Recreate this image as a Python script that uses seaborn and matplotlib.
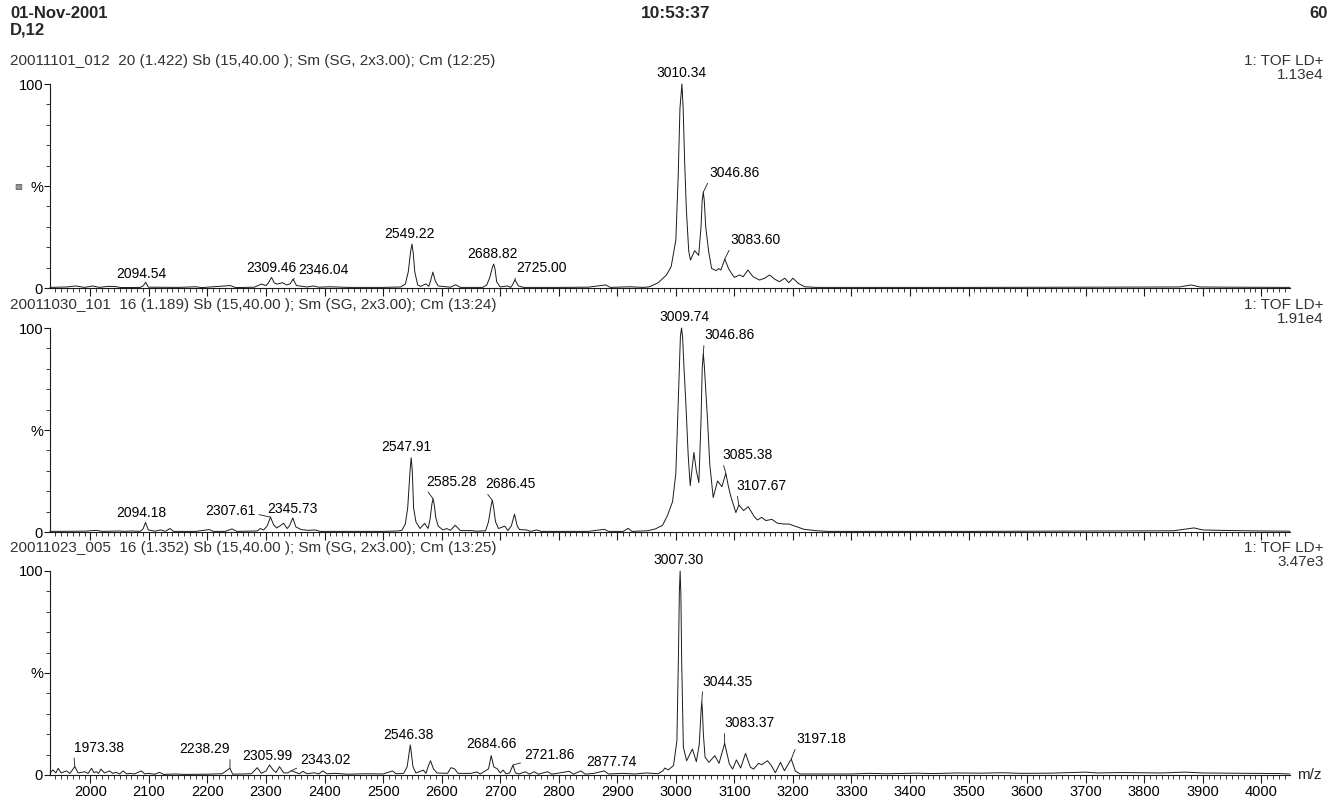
import matplotlib
matplotlib.use("Agg")
import matplotlib.pyplot as plt
import seaborn as sns
import pandas as pd
from matplotlib.ticker import MultipleLocator, FixedLocator

# ---- spectrum traces (m/z, % intensity) ----
TOP_MZ = [1931, 1960, 1975, 1990, 2004, 2015, 2030, 2043, 2052, 2085, 2090, 2094.54, 2099, 2150,
          2180, 2190, 2239, 2248, 2280, 2292, 2300, 2304, 2309.46, 2314, 2319, 2328, 2335, 2341,
          2346.04, 2352, 2370, 2381, 2390, 2410, 2440, 2500, 2530, 2538, 2543, 2547, 2549.22,
          2551.5, 2554, 2559, 2564, 2573, 2578, 2581, 2585, 2589, 2594, 2615, 2624, 2632, 2670,
          2677, 2682, 2686.5, 2688.82, 2691, 2694, 2700, 2712, 2718, 2721, 2725.00, 2731, 2740,
          2800, 2850, 2880, 2888, 2921, 2945, 2955, 2970, 2984, 2992, 3000, 3004, 3007, 3010.34,
          3012.5, 3015, 3018, 3022, 3025, 3032, 3039, 3043, 3045, 3046.86, 3048.5, 3051, 3056,
          3061, 3069, 3073, 3077, 3083.60, 3090, 3095, 3100, 3109, 3115, 3123, 3132, 3143, 3152,
          3160, 3169, 3177, 3186, 3193, 3200, 3209, 3220, 3240, 3500, 3700, 3860, 3880, 3895,
          3950, 4049]
TOP_PCT = [0.3, 0.5, 1.0, 0.3, 1.0, 0.3, 0.8, 0.7, 0.2, 0.3, 1.0, 2.8, 0.4, 0.3,
           0.6, 0.2, 1.2, 0.2, 0.4, 1.9, 1.2, 2.5, 5.2, 2.5, 1.9, 2.6, 1.5, 2.0,
           4.3, 1.2, 0.5, 1.0, 0.4, 0.6, 0.3, 0.3, 0.5, 2.0, 8.0, 18, 21.5,
           17, 8.0, 1.5, 0.8, 2.0, 0.8, 3.5, 7.8, 3.5, 1.0, 0.4, 1.6, 0.3, 0.3,
           1.5, 5.0, 10, 11.7, 9.5, 3.0, 0.5, 1.0, 0.3, 1.5, 4.0, 1.0, 0.3,
           0.3, 0.4, 1.5, 0.3, 0.6, 0.3, 0.6, 2.6, 6.4, 10.5, 23.5, 55, 88, 100,
           88, 62, 38, 18, 13.7, 18.3, 16, 30, 43, 47, 43, 30, 18,
           9.6, 8.5, 9.5, 8.8, 14.2, 9.5, 7.2, 5.2, 6.4, 5.5, 8.8, 5.5, 3.9, 4.8,
           6.4, 4.3, 3.1, 4.8, 2.6, 4.8, 2.3, 0.6, 0.3, 0.3, 0.4, 0.5, 1.5, 0.5,
           0.4, 0.3]

MID_MZ = [1931, 1990, 2010, 2020, 2050, 2058, 2070, 2085, 2090, 2094.18, 2099, 2110, 2120, 2128,
          2136, 2142, 2180, 2203, 2210, 2230, 2242, 2250, 2285, 2290, 2296, 2302, 2307.61, 2313,
          2318, 2324, 2330, 2336, 2340, 2345.73, 2351, 2360, 2372, 2384, 2392, 2500, 2525, 2532,
          2538, 2542, 2546, 2547.91, 2549.8, 2552, 2556, 2563, 2570.8, 2576.8, 2580, 2583.5,
          2585.28, 2587, 2590, 2594, 2602, 2608.7, 2615, 2623, 2632, 2649, 2660, 2675, 2680,
          2684.5, 2686.45, 2688.3, 2692, 2697, 2707.8, 2713, 2719, 2724.4, 2729, 2733, 2745, 2752,
          2762, 2770, 2850, 2877.7, 2885, 2910, 2918.6, 2925, 2951.7, 2965, 2977.3, 2985.8, 2994.4,
          3000, 3005.8, 3007.8, 3009.74, 3011.6, 3014, 3017.1, 3021, 3024.5, 3030.8, 3035, 3039.3,
          3043, 3045, 3046.86, 3048.5, 3050, 3054.1, 3058, 3063.8, 3071.2, 3078.6, 3085.38, 3090,
          3094, 3102.5, 3107.67, 3115.6, 3123.6, 3133.9, 3139.5, 3146.4, 3153.8, 3164, 3173.7,
          3185, 3193.6, 3202.2, 3219.2, 3242, 3260, 3500, 3700, 3850, 3885, 3900, 3930, 4000, 4049]
MID_PCT = [0.3, 0.4, 0.8, 0.3, 0.5, 0.3, 0.5, 0.3, 1.5, 4.7, 1.0, 0.4, 1.0, 0.3,
           1.7, 0.3, 0.3, 1.2, 0.3, 0.3, 1.5, 0.3, 0.5, 1.7, 1.0, 3.0, 7.3, 3.5,
           2.0, 3.0, 4.3, 1.7, 3.0, 6.9, 2.5, 1.2, 0.8, 1.0, 0.3, 0.3, 0.5, 0.8,
           4.0, 12, 30, 36.4, 30, 12, 5, 1.7, 4.2, 1.7, 6, 14,
           16.3, 14, 7, 2.9, 1.0, 1.7, 0.8, 3.3, 0.7, 0.7, 0.4, 0.6, 5,
           13, 15.6, 13, 5, 1.7, 2.9, 0.7, 3, 8.7, 3, 1.2, 1.0, 0.3,
           1.0, 0.3, 0.3, 1.3, 0.3, 0.3, 1.8, 0.3, 0.6, 1.5, 3.3, 8.2, 14.9,
           28.8, 79, 96, 100, 95, 80, 63, 38, 22.7, 39, 30, 24.2,
           55, 80, 87.6, 82, 75, 55, 33, 16.9, 25, 22.2, 28.8, 22,
           17.3, 9.5, 13.2, 10.5, 12.4, 7.5, 5.9, 7.2, 5.6, 6.2, 4.3,
           3.9, 3.9, 3.0, 1.3, 0.6, 0.3, 0.3, 0.5, 0.6, 2.0, 1.0, 0.8, 0.5, 0.4]

BOT_MZ = [1931, 1936, 1941, 1945, 1950, 1959, 1965, 1973.38, 1979, 1990, 1996, 2002, 2006, 2010,
          2014, 2018, 2024, 2033, 2038, 2044, 2050, 2056, 2062, 2067, 2075, 2087, 2093, 2098, 2110,
          2118, 2125, 2144, 2160, 2200, 2225, 2238.29, 2243, 2275, 2285, 2292, 2300, 2305.99, 2312,
          2317, 2323, 2330, 2337, 2343.02, 2352, 2357, 2363, 2370, 2383, 2390, 2397, 2404, 2417,
          2440, 2470, 2500, 2516, 2522, 2535, 2541, 2545.3, 2546.38, 2547.5, 2551, 2556, 2568.6,
          2573, 2578, 2581, 2586, 2592, 2610, 2616, 2622, 2628, 2650, 2660, 2666, 2680, 2684.66,
          2689, 2695, 2700, 2705, 2710, 2716, 2721.86, 2726, 2732, 2743, 2750, 2758, 2765, 2781,
          2788, 2818, 2825, 2838, 2845, 2860, 2877.74, 2885, 2910, 2930, 2950, 2970, 2978, 2981,
          2987, 2996, 3001.8, 3004.5, 3006, 3007.30, 3008.6, 3010, 3012.8, 3018.4, 3028.3, 3035,
          3040, 3043.2, 3044.35, 3045.5, 3047, 3049.9, 3056.5, 3066.5, 3073.7, 3083.37, 3091.4,
          3097, 3103.5, 3110.7, 3119, 3127.3, 3132.8, 3141.1, 3146.7, 3156.6, 3163.2, 3169.9,
          3178.7, 3185.4, 3197.18, 3204, 3212, 3240, 3300, 3330, 3360, 3410, 3440, 3480, 3520,
          3560, 3590, 3640, 3700, 3720, 3760, 3790, 3830, 3870, 3900, 3950, 3990, 4030, 4049]
BOT_PCT = [1.0, 2.5, 1.0, 3.3, 1.0, 2.0, 0.8, 4.1, 1.0, 1.6, 0.8, 3.3, 1.2, 1.6,
           0.8, 2.9, 1.0, 2.0, 0.8, 1.3, 0.5, 2.0, 0.5, 0.8, 0.5, 2.0, 0.5, 0.8, 0.4,
           1.3, 0.3, 0.5, 0.3, 0.4, 0.6, 3.3, 0.4, 0.6, 3.6, 0.8, 2.0, 4.9, 2.5,
           1.2, 4.1, 1.1, 1.0, 2.1, 1.1, 0.6, 1.8, 0.6, 1.1, 0.5, 2.0, 0.6, 0.8,
           0.4, 0.6, 0.5, 2.0, 0.6, 0.8, 4.0, 12.5, 14.7, 12.5, 4.0, 1.0, 2.4,
           0.8, 5, 7, 3, 1.0, 0.8, 3.6, 3.0, 0.8, 0.8, 1.5, 0.5, 3, 9.5,
           4, 3, 1.0, 2.4, 0.6, 1.0, 4.9, 1.0, 0.5, 1.6, 0.4, 1.6, 0.4, 1.6,
           0.4, 1.8, 0.4, 2.0, 0.4, 0.8, 2.0, 0.5, 0.8, 0.5, 1.0, 0.6, 2.1, 3.4,
           2.5, 4.6, 16.8, 60, 90, 100, 88, 55, 13.6, 7, 12.7, 6.5,
           15, 32, 36, 31, 20, 8.7, 6.2, 9.5, 5.7, 15.5, 5.4,
           2.9, 7.4, 3.4, 10.6, 3.8, 2.9, 5.7, 5.1, 7.0, 4.6, 1.1,
           6.2, 2.1, 7.8, 2.0, 0.5, 0.5, 0.5, 0.8, 0.6, 0.9, 0.7, 1.0, 0.9,
           1.1, 0.8, 0.9, 1.4, 1.0, 1.2, 1.1, 1.0, 1.4, 1.0, 0.9, 0.8, 0.7, 0.5]

# ---- labelled peaks ----
TOP_LABELS = ["2094.54", "2309.46", "2346.04", "2549.22", "2688.82", "2725.00",
              "3010.34", "3046.86", "3083.60"]
MID_LABELS = ["2094.18", "2307.61", "2345.73", "2547.91", "2585.28", "2686.45",
              "3009.74", "3046.86", "3085.38", "3107.67"]
BOT_LABELS = ["1973.38", "2238.29", "2305.99", "2343.02", "2546.38", "2684.66",
              "2721.86", "2877.74", "3007.30", "3044.35", "3083.37", "3197.18"]

HEADERS = ["20011101_012  20 (1.422) Sb (15,40.00 ); Sm (SG, 2x3.00); Cm (12:25)",
           "20011030_101  16 (1.189) Sb (15,40.00 ); Sm (SG, 2x3.00); Cm (13:24)",
           "20011023_005  16 (1.352) Sb (15,40.00 ); Sm (SG, 2x3.00); Cm (13:25)"]
SCALES = ["1.13e4", "1.91e4", "3.47e3"]

# label text offsets in pixels (dx, dy, leader line)
OFFSETS = [
    {"2094.54": (-4, 1, False), "2309.46": (0, 2, False), "2346.04": (30, 2, True),
     "2549.22": (-2, 3, False), "2688.82": (-1, 3, False), "2725.00": (27, 5, True),
     "3010.34": (0, 4, False), "3046.86": (31, 12, True), "3083.60": (31, 12, True)},
    {"2094.18": (-4, 2, False), "2307.61": (-40, -1, True), "2345.73": (0, 2, False),
     "2547.91": (-5, 4, False), "2585.28": (18, 10, True), "2686.45": (18, 9, True),
     "3009.74": (3, 4, False), "3046.86": (26, 11, True), "3085.38": (22, 11, True),
     "3107.67": (23, 12, True)},
    {"1973.38": (24, 12, True), "2238.29": (-25, 12, True), "2305.99": (-2, 2, False),
     "2343.02": (34, 4, True), "2546.38": (-2, 3, False), "2684.66": (0, 5, False),
     "2721.86": (36, 3, True), "2877.74": (7, 2, False), "3007.30": (-2, 4, False),
     "3044.35": (26, 13, True), "3083.37": (25, 13, True), "3197.18": (30, 13, True)},
]

sns.set_theme(style="ticks")
plt.rcParams["font.family"] = ["Liberation Sans", "DejaVu Sans"]

W, H = 1331, 797
fig = plt.figure(figsize=(W / 100, H / 100), dpi=100)
INK = "#1a1a1a"

traces = [(TOP_MZ, TOP_PCT, TOP_LABELS), (MID_MZ, MID_PCT, MID_LABELS), (BOT_MZ, BOT_PCT, BOT_LABELS)]
zero_px = [288, 532, 775]

for i, (mz, pct, labels) in enumerate(traces):
    y0 = zero_px[i]
    ax = fig.add_axes([50 / W, 1 - y0 / H, 1240 / W, 204 / H])
    df = pd.DataFrame({"mz": mz, "pct": pct})
    sns.lineplot(data=df, x="mz", y="pct", ax=ax, color=INK, linewidth=0.7,
                 estimator=None, sort=False)
    for line in ax.lines:
        line.set_clip_on(False)
    ax.set_xlim(1931, 4049)
    ax.set_ylim(0, 100)
    ax.set_xlabel("")
    ax.set_ylabel("")
    sns.despine(ax=ax)
    for s in ("left", "bottom"):
        ax.spines[s].set_linewidth(0.8)
        ax.spines[s].set_color(INK)

    ax.xaxis.set_major_locator(FixedLocator(list(range(2000, 4001, 100))))
    ax.xaxis.set_minor_locator(MultipleLocator(10))
    ax.yaxis.set_major_locator(FixedLocator([0, 50, 100]))
    ax.yaxis.set_minor_locator(MultipleLocator(10))
    ax.set_yticklabels(["0", "%", "100"])
    ax.tick_params(axis="both", which="major", direction="out", length=6, width=0.8,
                   color=INK, labelsize=10.5, labelcolor="black", pad=1)
    ax.tick_params(axis="both", which="minor", direction="out", length=3, width=0.6, color=INK)
    ax.tick_params(axis="y", which="major", length=4)
    if i < 2:
        ax.tick_params(axis="x", labelbottom=False)

    for lab in labels:
        m = float(lab)
        h = df.loc[(df["mz"] - m).abs().idxmin(), "pct"]
        dx, dy, leader = OFFSETS[i][lab]
        props = None
        if leader:
            props = dict(arrowstyle="-", color=INK, lw=0.6, shrinkA=0, shrinkB=0,
                         relpos=(0.0, 0.0) if dx > 0 else (1.0, 0.3))
        ax.annotate(lab, xy=(m, h), xytext=(dx, dy), textcoords="offset pixels",
                    ha="center", va="bottom", fontsize=10, color="black",
                    arrowprops=props, annotation_clip=False)

    top = y0 - 204
    fig.text(10 / W, 1 - (top - 23) / H, HEADERS[i], fontsize=11, color="#333333",
             ha="left", va="center")
    fig.text(1324 / W, 1 - (top - 23) / H, "1: TOF LD+", fontsize=11, color="#333333",
             ha="right", va="center")
    fig.text(1324 / W, 1 - (top - 9) / H, SCALES[i], fontsize=11, color="#333333",
             ha="right", va="center")

fig.text(10 / W, 1 - 14 / H, "01-Nov-2001", fontsize=12, fontweight="bold", ha="left", va="center")
fig.text(10 / W, 1 - 30 / H, "D,12", fontsize=12, fontweight="bold", ha="left", va="center")
fig.text(676 / W, 1 - 14 / H, "10:53:37", fontsize=12.5, fontweight="bold", ha="center", va="center")
fig.text(1328 / W, 1 - 14 / H, "60", fontsize=12, fontweight="bold", ha="right", va="center")
fig.text(1297 / W, 1 - 775 / H, "m/z", fontsize=11, ha="left", va="center")
fig.text(18 / W, 1 - 186 / H, "\u25a9", fontsize=6, color="#555555", ha="center", va="center",
         family=["DejaVu Sans"])

fig.savefig("out.png", dpi=100)
